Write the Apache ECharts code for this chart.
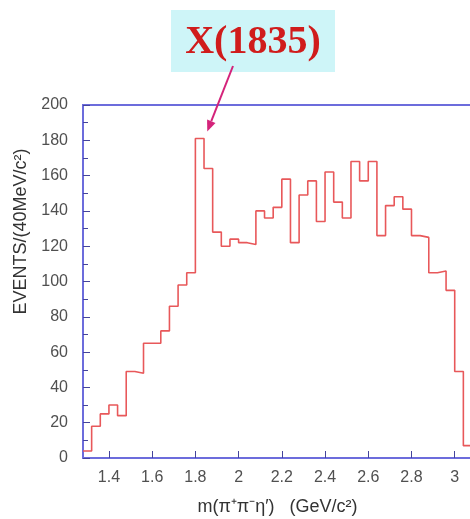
<!DOCTYPE html>
<html>
<head>
<meta charset="utf-8">
<script src="https://cdn.jsdelivr.net/npm/echarts@6/dist/echarts.min.js"></script>
<style>
html, body { margin: 0; padding: 0; background: #fff; }
#main { width: 470px; height: 519px; }
</style>
</head>
<body>
<div id="main"></div>
<script>
// histogram: 40 MeV bins starting at 1.28 GeV
var binStart = 1.28;
var binWidth = 0.04;
var counts = [4, 18, 25, 30, 24, 49, 48, 65, 65, 72,
              86, 98, 105, 181, 164, 128, 120, 124, 122, 121,
              140, 136, 142, 158, 122, 149, 157, 134, 162, 145,
              136, 168, 157, 168, 126, 143, 148, 141, 126, 125,
              105, 106, 95, 49, 7];
var xTicks = [1.4, 1.6, 1.8, 2, 2.2, 2.4, 2.6, 2.8, 3];
var peakLabel = 'X(1835)';
var peakPoint = [1.855, 185];

var blue = '#6c6cdc';
var tickBlue = '#44449c';
var labelGray = '#505050';

// left edge of every bin, plus the closing right edge
var steps = counts.map(function (c, i) {
    return [+(binStart + i * binWidth).toFixed(2), c];
});
steps.push([+(binStart + counts.length * binWidth).toFixed(2), counts[counts.length - 1]]);

var myChart = echarts.init(document.getElementById('main'));

var option = {
    animation: false,
    backgroundColor: '#fff',
    grid: {
        left: 83,
        top: 105,
        right: -2,
        bottom: 61,
        outerBoundsMode: 'none',
        containLabel: false,
        show: true,
        borderColor: blue,
        borderWidth: 2
    },
    xAxis: {
        type: 'value',
        min: binStart,
        max: binStart + counts.length * binWidth,
        name: 'm(π⁺π⁻η′)   (GeV/c²)',
        nameLocation: 'middle',
        nameGap: 40,
        nameTextStyle: { color: '#333', fontSize: 18, fontFamily: 'Liberation Sans' },
        axisLine: { show: true, lineStyle: { color: blue, width: 2 } },
        axisTick: { show: true, inside: true, length: 7, customValues: xTicks,
                    lineStyle: { color: tickBlue, width: 1 } },
        axisLabel: { customValues: xTicks, color: labelGray, fontSize: 16,
                     margin: 12, fontFamily: 'Liberation Sans' },
        splitLine: { show: false }
    },
    yAxis: {
        type: 'value',
        min: 0,
        max: 200,
        interval: 20,
        name: 'EVENTS/(40MeV/c²)',
        nameLocation: 'middle',
        nameGap: 52,
        nameTextStyle: { color: '#333', fontSize: 18, fontFamily: 'Liberation Sans',
                         padding: [0, 0, 0, 100] },
        axisLine: { show: true, lineStyle: { color: blue, width: 2 } },
        axisTick: { show: true, inside: true, length: 7, lineStyle: { color: tickBlue, width: 1 } },
        minorTick: { show: true, splitNumber: 2, length: 5, lineStyle: { color: tickBlue, width: 1 } },
        axisLabel: { color: labelGray, fontSize: 16, margin: 15, fontFamily: 'Liberation Sans' },
        splitLine: { show: false }
    },
    series: [{
        type: 'line',
        step: 'end',
        data: steps,
        symbol: 'none',
        lineStyle: { color: '#e8585a', width: 1.6 },
        z: 3
    }],
    graphic: [
        {
            type: 'rect',
            id: 'labelBox',
            shape: { x: 171, y: 10, width: 164, height: 62 },
            style: { fill: '#cef5f8' },
            z: 10
        },
        {
            type: 'text',
            id: 'labelText',
            x: 253,
            y: 43,
            style: {
                text: peakLabel,
                fill: '#d01c1c',
                font: 'bold 40px "Liberation Serif", serif',
                align: 'center',
                verticalAlign: 'middle'
            },
            z: 11
        }
    ]
};

myChart.setOption(option);

// arrow from the label down to the peak
var tip = myChart.convertToPixel({ gridIndex: 0 }, peakPoint);
var start = [233, 66];
var dx = tip[0] - start[0], dy = tip[1] - start[1];
var len = Math.sqrt(dx * dx + dy * dy);
var ux = dx / len, uy = dy / len;
var headLen = 11, headHalf = 4.5;
var base = [tip[0] - ux * headLen, tip[1] - uy * headLen];

myChart.setOption({
    graphic: [
        {
            type: 'line',
            id: 'arrowLine',
            shape: { x1: start[0], y1: start[1], x2: base[0], y2: base[1] },
            style: { stroke: '#d4237a', lineWidth: 2 },
            z: 12
        },
        {
            type: 'polygon',
            id: 'arrowHead',
            shape: { points: [
                tip,
                [base[0] - uy * headHalf, base[1] + ux * headHalf],
                [base[0] + uy * headHalf, base[1] - ux * headHalf]
            ] },
            style: { fill: '#d4237a' },
            z: 12
        }
    ]
});
</script>
</body>
</html>
